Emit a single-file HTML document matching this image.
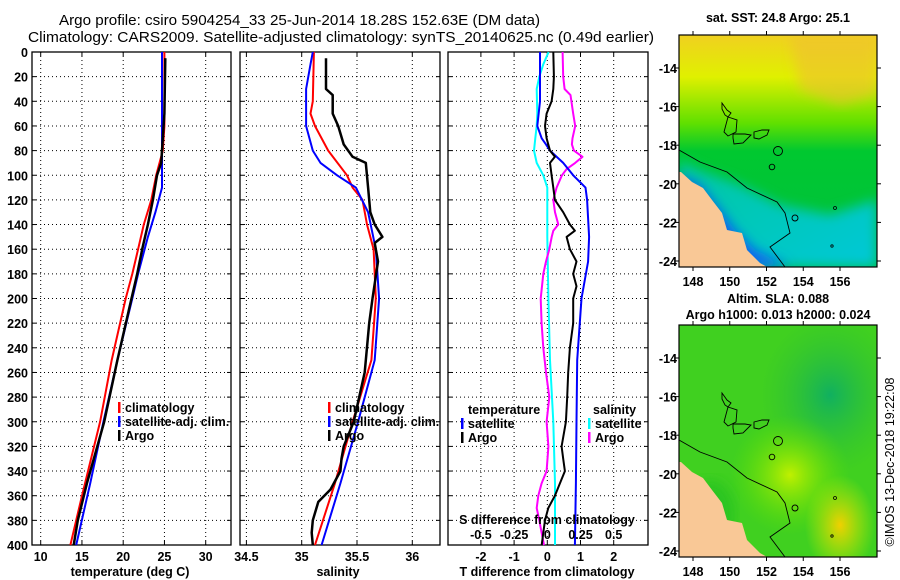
<!DOCTYPE html>
<html><head><meta charset="utf-8">
<style>
html,body{margin:0;padding:0;background:#fff;}
svg{display:block;font-family:"Liberation Sans",sans-serif;}
.t{font-size:12.5px;font-weight:bold;fill:#000;}
</style></head>
<body>
<svg id="fig" width="900" height="580" viewBox="0 0 900 580" xmlns="http://www.w3.org/2000/svg">
<text x="59" y="25" font-size="14.5" textLength="481" lengthAdjust="spacingAndGlyphs">Argo profile: csiro 5904254_33 25-Jun-2014 18.28S 152.63E (DM data)</text>
<text x="28" y="42" font-size="14.5" textLength="626" lengthAdjust="spacingAndGlyphs">Climatology: CARS2009. Satellite-adjusted climatology: synTS_20140625.nc (0.49d earlier)</text>
<g id="plots"></g>
<g id="maps"></g>
<text transform="translate(894,462) rotate(-90)" text-anchor="middle" font-size="12.5">©IMOS 13-Dec-2018 19:22:08</text>
</svg>
<script>
// ---------- data ----------
const depthTicks=[0,20,40,60,80,100,120,140,160,180,200,220,240,260,280,300,320,340,360,380,400];
const tempTicks=[10,15,20,25,30];
const salTicks=[34.5,35,35.5,36];
const tdiffTicks=[-2,-1,0,1,2];
const sdiffTicks=[-0.5,-0.25,0,0.25,0.5];
const sdiffTickLabels=['-0.5','-0.25','0','0.25','0.5'];

const tClimDepth=[0,60,80,100,120,140,160,180,200,250,300,360,400];
const tClimVal=[25.0,25.0,24.8,24.0,23.4,22.5,21.8,21.1,20.3,18.6,17.2,15.0,13.6];
const tSatDepth=[0,110,130,150,180,200,250,300,350,400];
const tSatVal=[24.7,24.7,23.9,23.0,21.8,21.1,19.3,17.6,16.0,14.3];
const tArgoDepth=[5,50,90,100,120,140,160,180,200,250,300,350,380,400];
const tArgoVal=[25.1,25.0,24.6,24.1,23.6,23.0,22.3,21.7,21.0,19.3,17.7,15.6,14.5,14.0];

const sClimDepth=[0,40,50,60,80,100,110,120,140,160,200,250,300,350,400];
const sClimVal=[35.11,35.1,35.08,35.12,35.24,35.41,35.46,35.55,35.59,35.65,35.67,35.63,35.46,35.3,35.12];
const sSatDepth=[0,10,30,60,80,90,100,110,130,160,200,250,300,350,400];
const sSatVal=[35.1,35.08,35.04,35.04,35.1,35.17,35.32,35.49,35.6,35.67,35.7,35.66,35.51,35.35,35.18];
const sArgoDepth=[5,30,35,50,60,75,85,90,110,130,140,150,155,170,200,220,260,300,320,330,340,355,365,380,390,400];
const sArgoVal=[35.22,35.22,35.28,35.28,35.33,35.38,35.46,35.58,35.6,35.62,35.66,35.73,35.66,35.69,35.64,35.61,35.57,35.47,35.38,35.36,35.35,35.26,35.15,35.1,35.09,35.1];

const dTSatDepth=[0,40,60,70,75,80,90,100,110,120,150,170,200,250,300,350,400];
const dTSatVal=[-0.22,-0.22,-0.3,-0.17,-0.04,0.08,0.48,0.78,1.15,1.2,1.26,1.23,1.03,0.9,0.88,0.86,0.83];
const dTArgoDepth=[0,20,30,40,50,60,70,80,85,90,100,110,120,130,140,145,150,160,170,180,190,200,220,240,260,280,300,320,330,340,350,360,370,380,390,400];
const dTArgoVal=[0.18,0.2,0.18,0.13,-0.02,-0.07,-0.02,0.08,0.23,0.08,0.13,0.18,0.23,0.48,0.68,0.83,0.58,0.68,0.88,0.78,0.88,0.78,0.78,0.68,0.63,0.6,0.56,0.43,0.48,0.53,0.38,0.23,0.03,-0.07,-0.12,-0.17];
const dSSatDepth=[0,10,20,30,50,60,70,80,90,100,110,150,200,250,300,350,400];
const dSSatVal=[0.01,-0.03,-0.06,-0.08,-0.075,-0.08,-0.09,-0.1,-0.08,-0.03,0,0,0.008,0.02,0.045,0.058,0.058];
const dSArgoDepth=[0,20,30,35,50,60,70,75,80,85,90,95,100,110,120,130,140,145,150,160,170,180,200,220,240,260,280,300,320,340,350,360,370,380,390,400];
const dSArgoVal=[0.115,0.12,0.13,0.175,0.195,0.21,0.19,0.185,0.2,0.265,0.21,0.145,0.11,0.07,0.045,0.058,0.083,0.045,0.033,0.015,-0.01,-0.03,-0.05,-0.043,-0.03,-0.01,0.015,-0.005,0.008,-0.005,-0.043,-0.068,-0.08,-0.06,-0.043,-0.025];

// ---------- helpers ----------
const NS='http://www.w3.org/2000/svg';
const plots=document.getElementById('plots');
function mk(tag,attrs,parent,text){const e=document.createElementNS(NS,tag);for(const k in attrs)e.setAttribute(k,attrs[k]);if(text!==undefined)e.textContent=text;(parent||plots).appendChild(e);return e;}
const Y0=52,Y1=545;
function yD(d){return Y0+(d/400)*(Y1-Y0);}
function scale(d0,d1,p0,p1){return v=>p0+(v-d0)/(d1-d0)*(p1-p0);}

function panel(name,L,R,xs,ticks,labFmt,showDepth){
  const g=mk('g',{});
  
  
  ticks.forEach(v=>{const l=mk('line',{x1:xs(v),x2:xs(v),y1:Y0,y2:Y1,stroke:'#000','stroke-width':1,'stroke-dasharray':'1 3'},g);
    });
  depthTicks.forEach(d=>{if(d===0||d===400)return;const l=mk('line',{x1:L,x2:R,y1:yD(d),y2:yD(d),stroke:'#000','stroke-width':1,'stroke-dasharray':'1 3'},g);
    });
  ticks.forEach(v=>{mk('line',{x1:xs(v),x2:xs(v),y1:Y1,y2:Y1-4,stroke:'#000'},g);mk('line',{x1:xs(v),x2:xs(v),y1:Y0,y2:Y0+4,stroke:'#000'},g);});
  depthTicks.forEach(d=>{mk('line',{x1:L,x2:L+4,y1:yD(d),y2:yD(d),stroke:'#000'},g);mk('line',{x1:R,x2:R-4,y1:yD(d),y2:yD(d),stroke:'#000'},g);});
  if(labFmt){ticks.forEach((v,i)=>{const t=mk('text',{x:xs(v),y:561,'text-anchor':'middle',class:'t'},g,labFmt(v,i));
    });}
  if(showDepth){depthTicks.forEach(d=>{const t=mk('text',{x:28,y:yD(d)+5,'text-anchor':'end',class:'t'},g,String(d));
    });}
  const f=mk('rect',{x:L,y:Y0,width:R-L,height:Y1-Y0,fill:'none',stroke:'#000','stroke-width':1.3},g);
  
  return g;
}
function series(g,name,depths,vals,xs,color,w){
  const pts=depths.map((d,i)=>xs(vals[i]).toFixed(1)+','+yD(d).toFixed(1)).join(' ');
  const p=mk('polyline',{points:pts,fill:'none',stroke:color,'stroke-width':w,'stroke-linejoin':'round'},g);
  
  
}
function legend(g,x,y,items){
  items.forEach((it,i)=>{
    mk('rect',{x:x,y:y+i*14-10,width:2.5,height:11,fill:it[1]},g);
    const t=mk('text',{x:x+7,y:y+i*14,class:'t'},g,it[0]);
    
    
  });
}

// ---------- panel 1: temperature ----------
const xT=scale(10,30,40.7,205.7);
const g1=panel('temperature',32,231,xT,tempTicks,v=>String(v),true);
series(g1,'temp-climatology-line',tClimDepth,tClimVal,xT,'#ff0000',2);
series(g1,'temp-satellite-line',tSatDepth,tSatVal,xT,'#0000ff',2);
series(g1,'temp-argo-line',tArgoDepth,tArgoVal,xT,'#000000',2.5);
legend(g1,118,412,[['climatology','#ff0000'],['satellite-adj. clim.','#0000ff'],['Argo','#000']]);
let t=mk('text',{x:130,y:576,'text-anchor':'middle',class:'t'},g1,'temperature (deg C)');


// ---------- panel 2: salinity ----------
const xS=scale(35,36,301.7,412.3);
const g2=panel('salinity',240,440,xS,salTicks,v=>String(v),false);
series(g2,'sal-climatology-line',sClimDepth,sClimVal,xS,'#ff0000',2);
series(g2,'sal-satellite-line',sSatDepth,sSatVal,xS,'#0000ff',2);
series(g2,'sal-argo-line',sArgoDepth,sArgoVal,xS,'#000000',2.5);
legend(g2,328,412,[['climatology','#ff0000'],['satellite-adj. clim.','#0000ff'],['Argo','#000']]);
t=mk('text',{x:338,y:576,'text-anchor':'middle',class:'t'},g2,'salinity');


// ---------- panel 3: differences ----------
const xDT=scale(0,1,547.3,580.5);
const xDS=scale(0,0.25,547.3,580.5);
const g3=panel('difference',448,648,xDT,tdiffTicks,v=>String(v),false);
series(g3,'sal-diff-satellite-line',dSSatDepth,dSSatVal,xDS,'#00ffff',2);
series(g3,'sal-diff-argo-line',dSArgoDepth,dSArgoVal,xDS,'#ff00ff',2);
series(g3,'temp-diff-satellite-line',dTSatDepth,dTSatVal,xDT,'#0000ff',2);
series(g3,'temp-diff-argo-line',dTArgoDepth,dTArgoVal,xDT,'#000000',2);
t=mk('text',{x:468,y:414,class:'t'},g3,'temperature');
legend(g3,461,428,[['satellite','#0000ff'],['Argo','#000']]);
t=mk('text',{x:593,y:414,class:'t'},g3,'salinity');
legend(g3,588,428,[['satellite','#00ffff'],['Argo','#ff00ff']]);
t=mk('text',{x:547,y:524,'text-anchor':'middle',class:'t'},g3,'S difference from climatology');
sdiffTicks.forEach((v,i)=>{const tt=mk('text',{x:xDS(v),y:539,'text-anchor':'middle',class:'t'},g3,sdiffTickLabels[i]);
  });
t=mk('text',{x:547,y:576,'text-anchor':'middle',class:'t'},g3,'T difference from climatology');

// ---------- maps ----------
const maps=document.getElementById('maps');
const lonTicks=[148,150,152,154,156];
const latTicks=[-14,-16,-18,-20,-22,-24];
const lonX=scale(148,156,693,840);
const latY=scale(-14,-24,0,193);
function drawMap(name,top,title1,title2,fills){
  const g=mk('g',{},maps);
  
  
  const L=679,R=877,T=top,B=top+232,oy=top+33;
  const clip=mk('clipPath',{id:'c'+name},g);
  mk('rect',{x:L,y:T,width:R-L,height:B-T},clip);
  const inner=mk('g',{'clip-path':'url(#c'+name+')'},g);
  fills.forEach(f=>{mk(f[0],Object.assign({},f[1],{transform:'translate(0,'+T+')'}),inner);});
  const land=mk('polygon',{points:'679,137 681,137 692,147 703,153 712,165 722,178 727,195 742,198 747,215 760,228 767,232 679,232',fill:'#f9c896',transform:'translate(0,'+T+')'},inner);
  
  mk('polyline',{points:'679,115 700,127 727,137 747,153 777,167 785,178 790,198 770,212 785,232',fill:'none',stroke:'#000','stroke-width':0.9,transform:'translate(0,'+T+')'},inner);
  const isl=['722,68 727,75 731,78 728,82 725,80 722,74','728,82 737,85 736,97 728,101 724,97','733,99 745,99 751,100 743,108 734,109 733,103','754,97 762,95 769,95 767,100 759,104 754,103'];
  isl.forEach(p=>mk('polygon',{points:p,fill:'none',stroke:'#000','stroke-width':0.9,transform:'translate(0,'+T+')'},inner));
  mk('circle',{cx:778,cy:116,r:4.5,fill:'none',stroke:'#000','stroke-width':0.9,transform:'translate(0,'+T+')'},inner);
  mk('circle',{cx:772,cy:132,r:2.8,fill:'none',stroke:'#000','stroke-width':0.9,transform:'translate(0,'+T+')'},inner);
  mk('circle',{cx:795,cy:183,r:3,fill:'none',stroke:'#000','stroke-width':0.9,transform:'translate(0,'+T+')'},inner);
  mk('circle',{cx:835,cy:173,r:1.5,fill:'none',stroke:'#000','stroke-width':0.8,transform:'translate(0,'+T+')'},inner);
  mk('circle',{cx:832,cy:211,r:1.2,fill:'none',stroke:'#000','stroke-width':0.8,transform:'translate(0,'+T+')'},inner);
  mk('rect',{x:L,y:T,width:R-L,height:B-T,fill:'none',stroke:'#000','stroke-width':1.2},g);
  lonTicks.forEach(v=>{const x=lonX(v);mk('line',{x1:x,x2:x,y1:T,y2:T-4,stroke:'#000'},g);mk('line',{x1:x,x2:x,y1:B,y2:B+4,stroke:'#000'},g);
    const tt=mk('text',{x:x,y:B+19,'text-anchor':'middle',class:'t'},g,String(v));});
  latTicks.forEach(v=>{const y=oy+latY(v);mk('line',{x1:L,x2:L-4,y1:y,y2:y,stroke:'#000'},g);mk('line',{x1:R,x2:R+4,y1:y,y2:y,stroke:'#000'},g);
    const tt=mk('text',{x:677,y:y+5,'text-anchor':'end',class:'t'},g,String(v));});
  let a=mk('text',{x:778,y:title2?top-22:top-13,'text-anchor':'middle',class:'t'},g,title1);
  if(title2){a=mk('text',{x:778,y:top-6,'text-anchor':'middle',class:'t'},g,title2);}
}
const defs=mk('defs',{},maps);
defs.innerHTML='<linearGradient id="sstg" x1="0" y1="0" x2="0" y2="1"><stop offset="0" stop-color="#f0d020"/><stop offset="0.18" stop-color="#e0f000"/><stop offset="0.38" stop-color="#60e000"/><stop offset="0.5" stop-color="#00c830"/><stop offset="1" stop-color="#00c040"/></linearGradient>'+
'<linearGradient id="teal" x1="0" y1="0" x2="1" y2="1"><stop offset="0" stop-color="#00c8a0"/><stop offset="1" stop-color="#00c8d8"/></linearGradient>'+
'<radialGradient id="yel" cx="0.5" cy="0.5" r="0.5"><stop offset="0" stop-color="#f0d000"/><stop offset="1" stop-color="#c8f000" stop-opacity="0"/></radialGradient>'+
'<radialGradient id="lg" cx="0.5" cy="0.5" r="0.5"><stop offset="0" stop-color="#c0f000"/><stop offset="1" stop-color="#60e000" stop-opacity="0"/></radialGradient>'+
'<radialGradient id="dg" cx="0.5" cy="0.5" r="0.5"><stop offset="0" stop-color="#10b060"/><stop offset="1" stop-color="#30c030" stop-opacity="0"/></radialGradient>'+
'<filter id="bl"><feGaussianBlur stdDeviation="6"/></filter>';
drawMap('sst-map',35,'sat. SST: 24.8 Argo: 25.1',null,[
 ['rect',{x:679,y:0,width:198,height:232,fill:'url(#sstg)'}],
 ['polygon',{points:'679,125 700,135 740,150 780,170 830,180 877,165 877,232 679,232',fill:'url(#teal)',filter:'url(#bl)'}],
 ['polygon',{points:'679,140 700,150 720,175 735,195 755,215 790,232 679,232',fill:'#1060f0',filter:'url(#bl)'}],
 ['polygon',{points:'790,0 877,0 877,60 840,70 800,55',fill:'#f0c030',opacity:0.6,filter:'url(#bl)'}]
]);
drawMap('sla-map',325,'Altim. SLA: 0.088','Argo h1000: 0.013 h2000: 0.024',[
 ['rect',{x:679,y:0,width:198,height:232,fill:'#40d020'}],
 ['ellipse',{cx:830,cy:70,rx:70,ry:80,fill:'url(#dg)'}],
 ['ellipse',{cx:790,cy:150,rx:60,ry:60,fill:'url(#lg)'}],
 ['ellipse',{cx:840,cy:200,rx:35,ry:50,fill:'url(#yel)'}],
 ['ellipse',{cx:710,cy:190,rx:25,ry:35,fill:'#20c020',opacity:0.7,filter:'url(#bl)'}]
]);
</script>
</body></html>
